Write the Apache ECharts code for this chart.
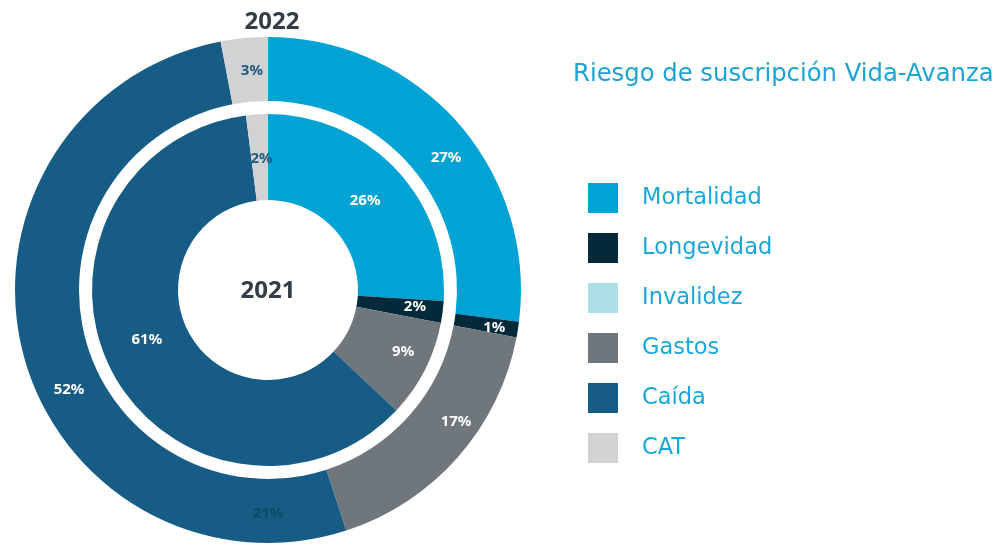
<!DOCTYPE html>
<html><head><meta charset="utf-8">
<script src="https://cdn.jsdelivr.net/npm/echarts@6/dist/echarts.min.js"></script>
<style>html,body{margin:0;padding:0;background:#fff}#c{width:1004px;height:546px}</style>
</head><body><div id="c"></div>
<script>
const categories = ['Mortalidad','Longevidad','Invalidez','Gastos','Caída','CAT'];
const colors = ['#00a3d3','#022a3a','#addfe6','#6f777d','#165c85','#d1d2d4'];
const values2022 = [27, 1, 0, 17, 52, 3];
const values2021 = [26, 2, 0, 9, 61, 2];
const labelColors = ['#ffffff','#ffffff','#ffffff','#ffffff','#ffffff','#1d5a7c'];
const title = 'Riesgo de suscripción Vida-Avanza';
const strayLabel = '21%';
// label nudges (styling only)
const offsets2022 = [[10,16],[5,3],[0,0],[20,-16],[18,44],[5,4]];
const offsets2021 = [[-2,4],[12,0],[0,0],[14,0],[0,-12],[2,4]];
const FONT = 'DejaVu Sans';
const LFONT = 'Noto Sans';

function mkData(vals, offs){
  return categories.map((n,i)=>({
    name:n, value:vals[i],
    itemStyle:{color:colors[i]},
    label:{show: vals[i]>0, color:labelColors[i], offset:offs[i]}
  }));
}
const chart = echarts.init(document.getElementById('c'));
chart.setOption({
  animation:false,
  title:{text:title, left:573, top:63, padding:0, textStyle:{fontFamily:FONT, fontSize:24.3, fontWeight:'normal', color:'#1ba3d4'}},
  legend:{
    orient:'vertical', left:588, top:183, padding:0, itemWidth:30, itemHeight:30, itemGap:20,
    icon:'rect', data:categories, selectedMode:false,
    textStyle:{fontFamily:FONT, fontSize:22.5, color:'#1aa6d9', padding:[0,0,0,19]}
  },
  graphic:[
    {type:'text', z:100, style:{text:'2022', x:272, y:22, textAlign:'center', textVerticalAlign:'middle', font:'bold 24px "Noto Sans"', fill:'#333d45'}},
    {type:'text', z:100, style:{text:'2021', x:268, y:291, textAlign:'center', textVerticalAlign:'middle', font:'bold 24px "Noto Sans"', fill:'#333d45'}},
    {type:'text', z:100, style:{text:strayLabel, x:268, y:514, textAlign:'center', textVerticalAlign:'middle', font:'bold 15px "Noto Sans"', fill:'#0d4a66'}}
  ],
  series:[
    {type:'pie', name:'2022', z:2, center:[268,290], radius:[189,253], startAngle:90, clockwise:true,
     label:{position:'inside', formatter:'{c}%', fontFamily:LFONT, fontWeight:'bold', fontSize:15},
     labelLine:{show:false}, emphasis:{disabled:true}, data:mkData(values2022, offsets2022)},
    {type:'pie', name:'2021', z:2, center:[268,290], radius:[90,176], startAngle:90, clockwise:true,
     label:{position:'inside', formatter:'{c}%', fontFamily:LFONT, fontWeight:'bold', fontSize:15},
     labelLine:{show:false}, emphasis:{disabled:true}, data:mkData(values2021, offsets2021)}
  ]
});
</script></body></html>
